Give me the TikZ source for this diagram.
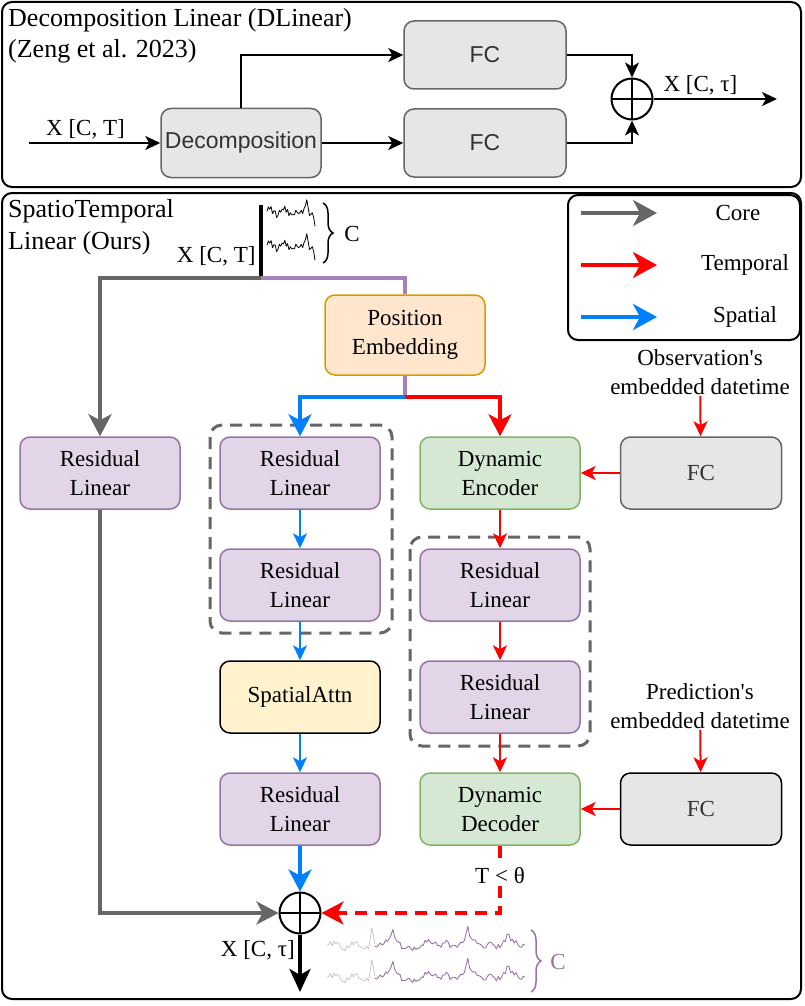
\documentclass[tikz,border=0pt]{standalone}
\usepackage{fontspec}
\setmainfont{Liberation Serif}
\newfontfamily\arialfont{Liberation Sans}
\usetikzlibrary{arrows.meta, decorations.pathreplacing}
\definecolor{coregray}{HTML}{666666}
\definecolor{tempred}{HTML}{FF0000}
\definecolor{spatblue}{HTML}{007FFF}
\definecolor{purp}{HTML}{A680B8}
\definecolor{resfill}{HTML}{E1D5E7}
\definecolor{resdraw}{HTML}{9673A6}
\definecolor{dynfill}{HTML}{D5E8D4}
\definecolor{dyndraw}{HTML}{82B366}
\definecolor{posfill}{HTML}{FFE6CC}
\definecolor{posdraw}{HTML}{D79B00}
\definecolor{attnfill}{HTML}{FFF2CC}
\definecolor{fcfill}{HTML}{E6E6E6}
\definecolor{siggray}{HTML}{C8C8C8}
\definecolor{sigpurp}{HTML}{8F6BA5}
\tikzset{
	blk/.style={rounded corners=10pt, line width=1.5pt, minimum width=160pt, minimum height=72pt, inner sep=0pt, align=center},
	resbox/.style={blk, draw=resdraw, fill=resfill},
	dynbox/.style={blk, draw=dyndraw, fill=dynfill},
	posbox/.style={blk, draw=posdraw, fill=posfill, minimum height=80pt},
	attnbox/.style={blk, draw=black, fill=attnfill},
	fcbox/.style={blk, draw=coregray, fill=fcfill, text=black!80},
	sansbox/.style={fcbox, font=\arialfont\fontsize{23}{29}\selectfont},
	title/.style={anchor=base west, inner sep=0pt, font=\fontsize{26}{31}\selectfont},
	sumnode/.style={circle, draw, line width=2pt, minimum size=41pt, inner sep=0pt,
		path picture={\draw[line width=2pt] (path picture bounding box.north) -- (path picture bounding box.south)
			(path picture bounding box.west) -- (path picture bounding box.east);}},
	smallhead/.style={-{Stealth[length=15pt, width=14pt, inset=4pt]}},
	bighead/.style={-{Stealth[length=22pt, width=23pt, inset=6pt]}},
	legendhead/.style={-{Stealth[length=24pt, width=26pt, inset=7pt]}},
	flow/.style={line width=2pt, smallhead},
	coreline/.style={draw=coregray, line width=4pt, bighead},
	tempthin/.style={draw=tempred, line width=2pt, smallhead},
	spatthin/.style={draw=spatblue, line width=2pt, smallhead},
	tempthick/.style={draw=tempred, line width=3.5pt, bighead},
	spatthick/.style={draw=spatblue, line width=3.5pt, bighead},
	purpline/.style={draw=purp, line width=3.5pt},
	dashbox/.style={draw=coregray, line width=3pt, dash pattern=on 12pt off 8pt, rounded corners=12pt},
	panel/.style={draw, line width=2pt, rounded corners=10pt},
	sig/.style={line width=0.8pt, line join=round}
}
\begin{document}
\begin{tikzpicture}[x=1pt, y=-1pt, font=\fontsize{23}{29}\selectfont]
	\useasboundingbox (0,0) rectangle (804,1006);

	\draw[panel] (2,2) rectangle (801,187);
	\draw[panel] (2,193) rectangle (801,999);

	\node[title] (dltitle) at (8,27) {Decomposition Linear (DLinear)};
	\node[title] (dlcite) at (8,58) {(Zeng et al. 2023)};

	\node[sansbox, minimum height=69pt] (decomp) at (241,143) {Decomposition};
	\node[sansbox, minimum width=162pt, minimum height=68pt] (fcA) at (485,55) {FC};
	\node[sansbox, minimum width=162pt, minimum height=68pt] (fcB) at (485,143) {FC};
	\node[sumnode] (sumA) at (632,99) {};
	\coordinate (xinA) at (29,143);
	\coordinate (xoutA) at (777,99);

	\draw[flow] (xinA) -- (decomp.west) node[pos=0.43, above] {X [C, T]};
	\draw[flow] (decomp.north) |- (fcA.west);
	\draw[flow] (decomp.east) -- (fcB.west);
	\draw[flow] (fcA.east) -| (sumA.north);
	\draw[flow] (fcB.east) -| (sumA.south);
	\draw[flow] (sumA.east) -- (xoutA) node[pos=0.38, above] {X [C, τ]};

	\node[title] (sttitle) at (8,217) {SpatioTemporal};
	\node[title] (stours) at (8,249) {Linear (Ours)};

	\draw[line width=2pt, rounded corners=10pt] (568,195) rectangle (800,340);
	\coordinate (lgA) at (581,213);
	\coordinate (lgB) at (581,265);
	\coordinate (lgC) at (581,317);
	\draw[coregray, line width=4pt, legendhead] (lgA) -- ++(76,0);
	\draw[tempred, line width=4pt, legendhead] (lgB) -- ++(76,0);
	\draw[spatblue, line width=4pt, legendhead] (lgC) -- ++(76,0);
	\node (lgcore) at (738,213) {Core};
	\node (lgtemp) at (745,265) {Temporal};
	\node (lgspat) at (745,317) {Spatial};

	\node[anchor=east] (xinB) at (259,256) {X [C, T]};
	\coordinate (barT) at (261,205);
	\coordinate (barB) at (261,278);
	\draw[line width=3.5pt] (barT) -- (barB);
	\pgfmathsetseed{5}
	\draw[sig] plot[domain=267:315, samples=36] (\x, {212 + 4*rand + 2*sin(25*\x) - 14*max(0,1-abs(\x-306)/3) + 12*max(0,(\x-309)/6)});
	\pgfmathsetseed{5}
	\draw[sig] plot[domain=267:315, samples=36] (\x, {246 + 4*rand + 2*sin(25*\x) - 14*max(0,1-abs(\x-306)/3) + 12*max(0,(\x-309)/6)});
	\draw[line width=1.5pt, decorate, decoration={brace, amplitude=10pt}] (323,203) -- (323,263);
	\node (chanA) at (352,234) {C};

	\node[posbox] (pos) at (405,335) {Position\\Embedding};
	\coordinate (split) at (405,397);

	\node[resbox] (rlA) at (100,473) {Residual\\Linear};
	\node[resbox] (rlB) at (300,473) {Residual\\Linear};
	\node[resbox] (rlC) at (300,585) {Residual\\Linear};
	\node[attnbox] (attn) at (300,697) {SpatialAttn};
	\node[resbox] (rlD) at (300,809) {Residual\\Linear};
	\node[dynbox] (enc) at (500,473) {Dynamic\\Encoder};
	\node[resbox] (rlE) at (500,585) {Residual\\Linear};
	\node[resbox] (rlF) at (500,697) {Residual\\Linear};
	\node[dynbox] (dec) at (500,809) {Dynamic\\Decoder};
	\node[fcbox, minimum width=161pt] (fcO) at (701,473) {FC};
	\node[fcbox, draw=black, minimum width=161pt] (fcP) at (701,809) {FC};
	\node[align=center, inner sep=1pt] (obs) at (700,372) {Observation\textquotesingle s\\embedded datetime};
	\node[align=center, inner sep=1pt] (pred) at (700,706) {Prediction\textquotesingle s\\embedded datetime};
	\node[sumnode] (sumB) at (300,913) {};
	\coordinate (xoutB) at (300,992);

	\draw[dashbox] (210,425) rectangle (392,633);
	\draw[dashbox] (410,537) rectangle (590,746);

	\draw[coreline] (barB) -| (rlA.north);
	\draw[purpline] (barB) -| (pos.north);
	\draw[purpline] (pos.south) -- (split);
	\draw[spatthick] (split) -| (rlB.north);
	\draw[tempthick] (split) -| (enc.north);

	\path (rlB) edge[spatthin] (rlC)
	(rlC) edge[spatthin] (attn)
	(attn) edge[spatthin] (rlD)
	(rlD) edge[spatthick] (sumB)
	(enc) edge[tempthin] (rlE)
	(rlE) edge[tempthin] (rlF)
	(rlF) edge[tempthin] (dec)
	(obs) edge[tempthin] (fcO)
	(pred) edge[tempthin] (fcP)
	(fcO) edge[tempthin] (enc)
	(fcP) edge[tempthin] (dec);

	\draw[coreline] (rlA.south) |- (sumB.west);
	\draw[tempthick, dash pattern=on 12pt off 8pt] (dec.south) |- (sumB.east) node[pos=0.22, fill=white, inner sep=2pt] {T < θ};
	\draw[line width=4pt, -{Stealth[length=23pt, width=21pt, inset=6pt]}] (sumB.south) -- (xoutB) node[pos=0.28, left] {X [C, τ]};

	\pgfmathsetseed{9}
	\draw[sig, siggray] plot[domain=327:375, samples=30] (\x, {945 + 3.5*rand + 2.5*sin(17*\x) - 16*max(0,1-abs(\x-372)/3)});
	\pgfmathsetseed{13}
	\draw[sig, sigpurp] plot[domain=375:525, samples=85] (\x, {945 + 3*rand + 3.5*sin(9*\x) - 10*max(0,1-abs(\x-393)/5) - 8*max(0,1-abs(\x-446)/4) - 18*max(0,1-abs(\x-468)/3) - 10*max(0,1-abs(\x-490)/4) - 11*max(0,1-abs(\x-508)/2)});
	\pgfmathsetseed{9}
	\draw[sig, siggray] plot[domain=327:375, samples=30] (\x, {977 + 3.5*rand + 2.5*sin(17*\x) - 16*max(0,1-abs(\x-372)/3)});
	\pgfmathsetseed{13}
	\draw[sig, sigpurp] plot[domain=375:525, samples=85] (\x, {977 + 3*rand + 3.5*sin(9*\x) - 10*max(0,1-abs(\x-393)/5) - 8*max(0,1-abs(\x-446)/4) - 18*max(0,1-abs(\x-468)/3) - 10*max(0,1-abs(\x-490)/4) - 11*max(0,1-abs(\x-508)/2)});
	\draw[resdraw, line width=1.5pt, decorate, decoration={brace, amplitude=10pt}] (531,930) -- (531,992);
	\node[text=resdraw] (chanB) at (558,962) {C};
\end{tikzpicture}
\end{document}
